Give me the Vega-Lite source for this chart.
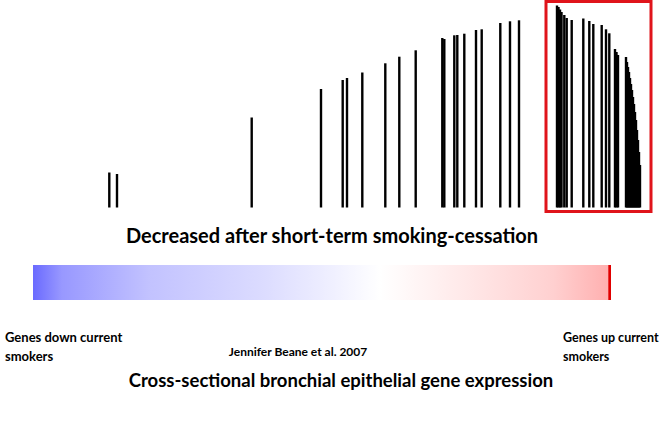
{
  "$schema": "https://vega.github.io/schema/vega-lite/v6.json",
  "width": 664,
  "height": 422,
  "padding": 0,
  "autosize": {"type": "none"},
  "background": "white",
  "config": {"view": {"stroke": null}, "font": "Lato"},
  "datasets": {
    "genes": [
      {"rank": 109.3, "v": 35.5}, {"rank": 117, "v": 34},
      {"rank": 251.7, "v": 90.5}, {"rank": 321, "v": 119},
      {"rank": 342.7, "v": 128}, {"rank": 347, "v": 130},
      {"rank": 362.3, "v": 135.5}, {"rank": 385.3, "v": 144.7},
      {"rank": 399.3, "v": 151.3}, {"rank": 415.7, "v": 157.7},
      {"rank": 442.3, "v": 170}, {"rank": 444.3, "v": 169},
      {"rank": 454.3, "v": 172.7}, {"rank": 457.3, "v": 173},
      {"rank": 464.3, "v": 174.3}, {"rank": 476, "v": 178},
      {"rank": 481.7, "v": 178.7}, {"rank": 500.3, "v": 185},
      {"rank": 510, "v": 186.7}, {"rank": 519, "v": 187.7},
      {"rank": 557, "v": 202.5}, {"rank": 558.5, "v": 201},
      {"rank": 560, "v": 198.5}, {"rank": 561.5, "v": 196},
      {"rank": 564.3, "v": 193}, {"rank": 566.7, "v": 190},
      {"rank": 571.7, "v": 188}, {"rank": 583.3, "v": 189.5},
      {"rank": 589.3, "v": 187}, {"rank": 593.3, "v": 184},
      {"rank": 601.7, "v": 183}, {"rank": 606, "v": 178.7},
      {"rank": 609.3, "v": 174.7}, {"rank": 615, "v": 159},
      {"rank": 616.5, "v": 156}, {"rank": 618, "v": 153},
      {"rank": 626, "v": 151}, {"rank": 627, "v": 146},
      {"rank": 628, "v": 141}, {"rank": 629, "v": 136},
      {"rank": 630, "v": 130}, {"rank": 631, "v": 124},
      {"rank": 632, "v": 118}, {"rank": 633, "v": 111},
      {"rank": 634, "v": 104}, {"rank": 635, "v": 96},
      {"rank": 636, "v": 88}, {"rank": 637, "v": 78},
      {"rank": 638, "v": 68}, {"rank": 639, "v": 56},
      {"rank": 640, "v": 43}
    ]
  },
  "resolve": {"scale": {"x": "shared", "y": "shared"}},
  "layer": [
    {
      "data": {"name": "genes"},
      "mark": {"type": "rule", "color": "black", "strokeWidth": 2.4},
      "encoding": {
        "x": {"field": "rank", "type": "quantitative", "scale": {"domain": [0, 664], "nice": false, "zero": false}, "axis": null},
        "y": {"field": "v", "type": "quantitative", "scale": {"domain": [-214, 208], "nice": false, "zero": false}, "axis": null},
        "y2": {"datum": 0.5}
      }
    },
    {
      "data": {"values": [{"box": "top genes"}]},
      "mark": {"type": "rect", "fill": null, "fillOpacity": 0, "stroke": "#e0141b", "strokeWidth": 3},
      "encoding": {
        "x": {"datum": 546}, "x2": {"datum": 651},
        "y": {"datum": 206.5}, "y2": {"datum": -3.5}
      }
    },
    {
      "data": {"values": [{"scale": "expression"}]},
      "mark": {"type": "rect", "color": {"gradient": "linear", "x1": 0, "x2": 1, "y1": 0, "y2": 0,
        "stops": [
          {"offset": 0, "color": "#6a6aff"},
          {"offset": 0.05, "color": "#9898ff"},
          {"offset": 0.2, "color": "#c2c2ff"},
          {"offset": 0.4, "color": "#dcdcff"},
          {"offset": 0.52, "color": "#f0f0ff"},
          {"offset": 0.6, "color": "#ffffff"},
          {"offset": 0.75, "color": "#ffe8e8"},
          {"offset": 0.9, "color": "#ffd0d0"},
          {"offset": 0.995, "color": "#ffb0b0"},
          {"offset": 0.996, "color": "#e00000"},
          {"offset": 1, "color": "#e00000"}
        ]}},
      "encoding": {
        "x": {"datum": 33}, "x2": {"datum": 611},
        "y": {"datum": -57}, "y2": {"datum": -92}
      }
    },
    {
      "data": {"values": [{"label": "Decreased after short-term smoking-cessation"}]},
      "mark": {"type": "text", "fontSize": 20, "fontWeight": "bold", "align": "center", "baseline": "middle", "color": "black"},
      "encoding": {"x": {"datum": 332}, "y": {"datum": -29}, "text": {"field": "label"}}
    },
    {
      "data": {"values": [{"label": "Cross-sectional bronchial epithelial gene expression"}]},
      "mark": {"type": "text", "fontSize": 18.5, "fontWeight": "bold", "align": "center", "baseline": "middle", "color": "black"},
      "encoding": {"x": {"datum": 341}, "y": {"datum": -173}, "text": {"field": "label"}}
    },
    {
      "data": {"values": [{"label": "Jennifer Beane et al. 2007"}]},
      "mark": {"type": "text", "fontSize": 12, "fontWeight": "bold", "align": "center", "baseline": "middle", "color": "black"},
      "encoding": {"x": {"datum": 298}, "y": {"datum": -144}, "text": {"field": "label"}}
    },
    {
      "data": {"values": [{"label": ["Genes down current", "smokers"]}]},
      "mark": {"type": "text", "fontSize": 13, "fontWeight": "bold", "align": "left", "baseline": "middle", "lineHeight": 19, "color": "black"},
      "encoding": {"x": {"datum": 5}, "y": {"datum": -130}, "text": {"field": "label"}}
    },
    {
      "data": {"values": [{"label": ["Genes up current", "smokers"]}]},
      "mark": {"type": "text", "fontSize": 12.5, "fontWeight": "bold", "align": "left", "baseline": "middle", "lineHeight": 19, "color": "black"},
      "encoding": {"x": {"datum": 563}, "y": {"datum": -130}, "text": {"field": "label"}}
    }
  ]
}
